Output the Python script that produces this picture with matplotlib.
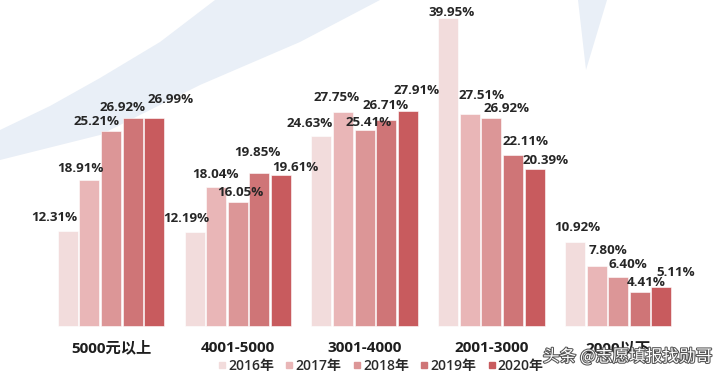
import matplotlib
matplotlib.use('Agg')
import matplotlib.pyplot as plt
import matplotlib.patheffects as pe
from matplotlib.lines import Line2D
import numpy as np

plt.rcParams['font.family'] = ['Open Sans', 'Noto Sans CJK SC', 'DejaVu Sans']

categories = ['5000元以上', '4001-5000', '3001-4000', '2001-3000', '2000以下']
years = ['2016年', '2017年', '2018年', '2019年', '2020年']
values = {
    '2016年': [12.31, 12.19, 24.63, 39.95, 10.92],
    '2017年': [18.91, 18.04, 27.75, 27.51, 7.80],
    '2018年': [25.21, 16.05, 25.41, 26.92, 6.40],
    '2019年': [26.92, 19.85, 26.71, 22.11, 4.41],
    '2020年': [26.99, 19.61, 27.91, 20.39, 5.11],
}
colors = ['#f2dcdc', '#e9b6b7', '#dc9697', '#cf7577', '#c85b5e']

# label nudges (pixels) so the numbers don't overlap, per year then group
label_dx = [[-14, -8, -12, 3, 2],
            [-9, -1, -6, 12, 11],
            [-14, 3, 4, 15, 10],
            [-10, -2, -1, 13, 6],
            [16, 14, 9, 11, 14]]
label_dy = [[13, 13, 12, 5, 14],
            [12, 12, 14, 18, 15],
            [10, 10, 7, 10, 12],
            [11, 20, 14, 14, 9],
            [18, 7, 20, 8, 14]]

W, H = 719, 378
fig = plt.figure(figsize=(W / 100, H / 100), dpi=100)
ax = fig.add_axes([0, 0, 1, 1])

# pixel layout -> data limits
pitch_px = 126.8
first_px = 111
base_px = 326
px_per_pct = 7.72
ax.set_xlim(-first_px / pitch_px, (W - first_px) / pitch_px)
ax.set_ylim(-(H - base_px) / px_per_pct, base_px / px_per_pct)
ax.axis('off')

# light blue decoration in the background
def px(xp, yp):
    return (xp - first_px) / pitch_px, (base_px - yp) / px_per_pct

upper = [(0, 130), (50, 106), (100, 78), (160, 42), (215, 0)]
lower = [(380, 0), (300, 42), (200, 85), (100, 135), (0, 160)]
band = [px(*p) for p in upper + lower]
ax.fill(*zip(*band), color='#e9eff7', zorder=0, lw=0)
spike = [px(578, 0), px(607, 0), px(586, 70)]
ax.fill(*zip(*spike), color='#e9eff7', zorder=0, lw=0)

x = np.arange(len(categories))
bw = 20 / pitch_px
step = 21.6 / pitch_px
for i, yr in enumerate(years):
    xs = x + (i - 2) * step
    ax.bar(xs, values[yr], width=bw, color=colors[i], zorder=2,
           edgecolor='white', linewidth=0.4)
    for j, (bx, v) in enumerate(zip(xs, values[yr])):
        ax.annotate(f'{v:.2f}%', (bx, v), xytext=(label_dx[i][j], label_dy[i][j]),
                    textcoords='offset pixels', ha='center', va='center',
                    fontsize=9.6, fontweight='bold', color='#262626', zorder=3)

for g, cat in enumerate(categories):
    ax.text(g, -(348 - base_px) / px_per_pct, cat, ha='center', va='center',
            fontsize=11, fontweight='bold', color='#1e1e1e')

handles = [Line2D([], [], marker='s', ls='', markersize=4, color=c) for c in colors]
fig.legend(handles, years, loc='center', bbox_to_anchor=(380 / W, 1 - 366 / H),
           ncol=5, frameon=False, handletextpad=0.05, columnspacing=0.7,
           handlelength=0.8, borderpad=0,
           prop={'size': 10, 'weight': 'semibold'}, labelcolor='#2a2a2a')

fig.text(712 / W, 1 - 357 / H, '头条 @志愿填报找勋哥', ha='right', va='center',
         fontsize=12, color='white', family=['Noto Sans CJK SC'],
         path_effects=[pe.withStroke(linewidth=1.5, foreground='#555555')])

fig.savefig('out.png', dpi=100)
